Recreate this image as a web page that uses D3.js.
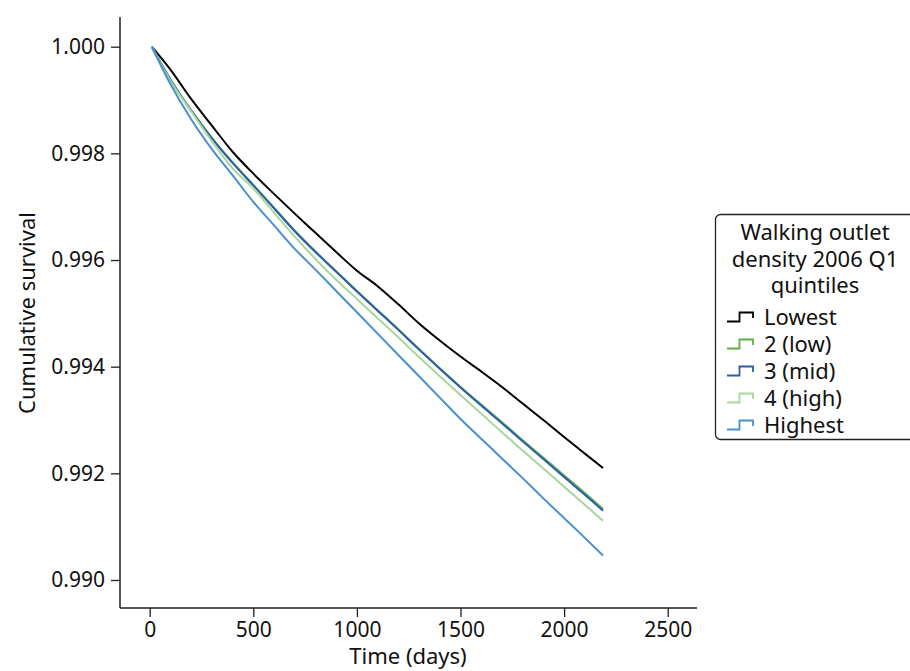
<!DOCTYPE html>
<html>
<head>
<meta charset="utf-8">
<script src="https://cdn.jsdelivr.net/npm/d3@7"></script>
<style>
  body { margin: 0; background: #fff; }
  svg { display: block; font-family: "Noto Sans", "Open Sans", sans-serif; }
</style>
</head>
<body>
<svg id="chart" width="910" height="671"></svg>
<script>
const times = [10, 100, 200, 300, 400, 500, 600, 700, 800, 900, 1000, 1100, 1200, 1300, 1400, 1500, 1600, 1700, 1800, 1900, 2000, 2100, 2188];

const lowest  = [1.0000, 0.99957, 0.99902, 0.99852, 0.99803, 0.99762, 0.99724, 0.99687, 0.99651, 0.99615, 0.99580, 0.99551, 0.99517, 0.99481, 0.99449, 0.99419, 0.99391, 0.99362, 0.99331, 0.99300, 0.99268, 0.99237, 0.99210];
const low2    = [1.0000, 0.99939, 0.99881, 0.99829, 0.99783, 0.99741, 0.99698, 0.99655, 0.99616, 0.99579, 0.99542, 0.99506, 0.99470, 0.99433, 0.99397, 0.99362, 0.99329, 0.99296, 0.99262, 0.99229, 0.99196, 0.99163, 0.99133];
const mid3    = [1.0000, 0.99938, 0.99880, 0.99828, 0.99782, 0.99740, 0.99697, 0.99654, 0.99615, 0.99578, 0.99541, 0.99505, 0.99469, 0.99432, 0.99396, 0.99361, 0.99327, 0.99294, 0.99260, 0.99227, 0.99193, 0.99160, 0.99130];
const high4   = [1.0000, 0.99936, 0.99879, 0.99823, 0.99772, 0.99734, 0.99689, 0.99644, 0.99602, 0.99563, 0.99527, 0.99491, 0.99455, 0.99418, 0.99382, 0.99347, 0.99312, 0.99277, 0.99243, 0.99209, 0.99175, 0.99141, 0.99111];
const highest = [1.0000, 0.99930, 0.99864, 0.99808, 0.99759, 0.99709, 0.99665, 0.99621, 0.99582, 0.99542, 0.99502, 0.99462, 0.99422, 0.99382, 0.99342, 0.99302, 0.99265, 0.99228, 0.99191, 0.99153, 0.99116, 0.99079, 0.99046];

const seriesNames = ["Lowest", "2 (low)", "3 (mid)", "4 (high)", "Highest"];
const seriesValues = [lowest, low2, mid3, high4, highest];
const seriesColors = ["#000000", "#5bb346", "#2d5da8", "#a8d69c", "#4a8fd2"];

const xTicks = [0, 500, 1000, 1500, 2000, 2500];
const yTicks = [0.990, 0.992, 0.994, 0.996, 0.998, 1.000];
const legendTitle = ["Walking outlet", "density 2006 Q1", "quintiles"];
const xTitle = "Time (days)";
const yTitle = "Cumulative survival";

const svg = d3.select("#chart");

const x = d3.scaleLinear().domain([0, 2500]).range([149.7, 667.7]);
const y = d3.scaleLinear().domain([0.990, 1.000]).range([580, 46.7]);

const axisLeftX = 120, axisBottomY = 608, axisTopY = 17, axisRightX = 697;
const tickFont = 21, titleFont = 22;

// Axes
const gx = svg.append("g").attr("transform", `translate(0,${axisBottomY})`)
  .call(d3.axisBottom(x).tickValues(xTicks).tickFormat(d3.format("d")).tickSize(9).tickPadding(5));
gx.select(".domain").remove();
gx.selectAll("line").attr("stroke", "#222").attr("stroke-width", 1.3);
gx.selectAll("text").attr("font-size", tickFont).attr("fill", "#111").attr("font-family", "Noto Sans, sans-serif");

const gy = svg.append("g").attr("transform", `translate(${axisLeftX},0)`)
  .call(d3.axisLeft(y).tickValues(yTicks).tickFormat(d3.format(".3f")).tickSize(9).tickPadding(6));
gy.select(".domain").remove();
gy.selectAll("line").attr("stroke", "#222").attr("stroke-width", 1.3);
gy.selectAll("text").attr("font-size", tickFont).attr("fill", "#111").attr("font-family", "Noto Sans, sans-serif");

svg.append("line").attr("x1", axisLeftX).attr("x2", axisLeftX).attr("y1", axisTopY).attr("y2", axisBottomY)
  .attr("stroke", "#222").attr("stroke-width", 1.5);
svg.append("line").attr("x1", axisLeftX).attr("x2", axisRightX).attr("y1", axisBottomY).attr("y2", axisBottomY)
  .attr("stroke", "#222").attr("stroke-width", 1.5);

// Axis titles
svg.append("text").attr("x", 408).attr("y", 664).attr("text-anchor", "middle")
  .attr("font-size", titleFont).attr("fill", "#111").text(xTitle);
svg.append("text").attr("transform", `translate(35,${313}) rotate(-90)`).attr("text-anchor", "middle")
  .attr("font-size", titleFont).attr("fill", "#111").text(yTitle);

// Lines
const line = d3.line().x((d, i) => x(times[i])).y(d => y(d)).curve(d3.curveMonotoneX);
seriesValues.forEach((vals, k) => {
  svg.append("path").datum(vals).attr("d", line).attr("fill", "none")
    .attr("stroke", seriesColors[k]).attr("stroke-width", 2).attr("stroke-linejoin", "round");
});

// Legend
const lg = svg.append("g");
lg.append("rect").attr("x", 715.5).attr("y", 214.5).attr("width", 200).attr("height", 225)
  .attr("rx", 5).attr("fill", "#fff").attr("stroke", "#222").attr("stroke-width", 1.3);
legendTitle.forEach((t, i) => {
  lg.append("text").attr("x", 815).attr("y", 240 + i * 26.5).attr("text-anchor", "middle")
    .attr("font-size", titleFont).attr("fill", "#111").text(t);
});
seriesNames.forEach((name, i) => {
  const cy = 317 + i * 27;
  lg.append("path")
    .attr("d", `M727,${cy + 4.5} H739.5 V${cy - 4.5} H753 V${cy + 1}`)
    .attr("fill", "none").attr("stroke", seriesColors[i]).attr("stroke-width", 1.8);
  lg.append("text").attr("x", 764).attr("y", cy + 8).attr("font-size", titleFont).attr("fill", "#111").text(name);
});
</script>
</body>
</html>
